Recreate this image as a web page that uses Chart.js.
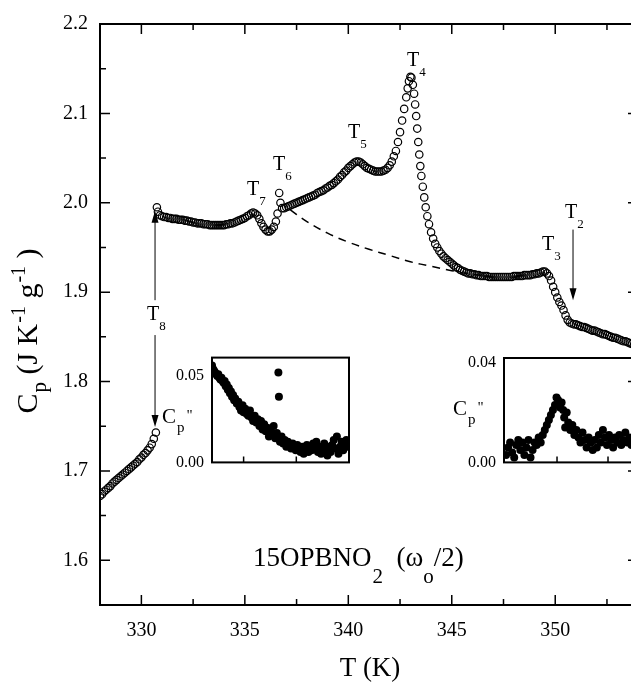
<!DOCTYPE html>
<html>
<head>
<meta charset="UTF-8">
<title>15OPBNO2 heat capacity</title>
<script src="https://cdn.jsdelivr.net/npm/chart.js"></script>
<style>
    html, body { margin: 0; padding: 0; background: #fff; overflow: hidden; }
    #wrap { position: relative; width: 631px; height: 684px; overflow: hidden; background: #fff; }
    #main { position: absolute; left: 0; top: 0; }
    #inset1 { position: absolute; left: 150px; top: 340px; }
    #inset2 { position: absolute; left: 440px; top: 340px; }
</style>
</head>
<body>
<div id="wrap">
    <canvas id="main" width="660" height="684"></canvas>
    <canvas id="inset1" width="210" height="140"></canvas>
    <canvas id="inset2" width="230" height="140"></canvas>
</div>

<script>
    // main curve, below the T8 jump
    const lowT = [328.0, 328.1, 328.2, 328.3, 328.4, 328.5, 328.6, 328.7, 328.8, 328.9,
        329.0, 329.1, 329.2, 329.3, 329.4, 329.5, 329.6, 329.7, 329.8, 329.9,
        330.0, 330.1, 330.2, 330.3, 330.4, 330.5, 330.6, 330.7];
    const lowCp = [1.672, 1.674, 1.677, 1.679, 1.681, 1.683, 1.686, 1.688, 1.690, 1.692,
        1.694, 1.696, 1.698, 1.700, 1.702, 1.704, 1.706, 1.708, 1.710, 1.713,
        1.715, 1.718, 1.720, 1.723, 1.726, 1.730, 1.736, 1.743];

    // main curve, above the T8 jump
    const highT = [330.75, 330.8, 330.9, 331.0, 331.1, 331.2, 331.3, 331.4, 331.5, 331.6, 331.7, 331.8, 331.9,
        332.0, 332.1, 332.2, 332.3, 332.4, 332.5, 332.6, 332.7, 332.8, 332.9,
        333.0, 333.1, 333.2, 333.3, 333.4, 333.5, 333.6, 333.7, 333.8, 333.9,
        334.0, 334.1, 334.2, 334.3, 334.4, 334.5, 334.6, 334.7, 334.8, 334.9,
        335.0, 335.1, 335.2, 335.3, 335.4, 335.5, 335.6, 335.7, 335.8, 335.9,
        336.0, 336.1, 336.2, 336.3, 336.4, 336.5, 336.58, 336.66, 336.72, 336.8, 336.9,
        337.0, 337.1, 337.2, 337.3, 337.4, 337.5, 337.6, 337.7, 337.8, 337.9,
        338.0, 338.1, 338.2, 338.3, 338.4, 338.5, 338.6, 338.7, 338.8, 338.9,
        339.0, 339.1, 339.2, 339.3, 339.4, 339.5, 339.6, 339.7, 339.8, 339.9,
        340.0, 340.1, 340.2, 340.3, 340.4, 340.5, 340.6, 340.7, 340.8, 340.9,
        341.0, 341.1, 341.2, 341.3, 341.4, 341.5, 341.6, 341.7, 341.8, 341.9,
        342.0, 342.1, 342.2, 342.3, 342.4, 342.5, 342.6, 342.7, 342.8, 342.87, 342.93,
        343.0, 343.05, 343.12, 343.18, 343.23, 343.28, 343.33, 343.38, 343.43, 343.48, 343.53,
        343.6, 343.67, 343.74, 343.82, 343.9,
        344.0, 344.1, 344.2, 344.3, 344.4, 344.5, 344.6, 344.7, 344.8, 344.9,
        345.0, 345.1, 345.2, 345.3, 345.4, 345.5, 345.6, 345.7, 345.8, 345.9,
        346.0, 346.1, 346.2, 346.3, 346.4, 346.5, 346.6, 346.7, 346.8, 346.9,
        347.0, 347.1, 347.2, 347.3, 347.4, 347.5, 347.6, 347.7, 347.8, 347.9,
        348.0, 348.1, 348.2, 348.3, 348.4, 348.5, 348.6, 348.7, 348.8, 348.9,
        349.0, 349.1, 349.2, 349.3, 349.4, 349.5, 349.6, 349.7, 349.8, 349.9,
        350.0, 350.1, 350.2, 350.3, 350.4, 350.5, 350.6, 350.7, 350.8, 350.9,
        351.0, 351.1, 351.2, 351.3, 351.4, 351.5, 351.6, 351.7, 351.8, 351.9,
        352.0, 352.1, 352.2, 352.3, 352.4, 352.5, 352.6, 352.7, 352.8, 352.9,
        353.0, 353.1, 353.2, 353.3, 353.4, 353.5, 353.6, 353.7, 353.8, 353.9];
    const highCp = [1.995, 1.990, 1.986, 1.985, 1.984, 1.984, 1.983, 1.983, 1.982, 1.982, 1.982, 1.981, 1.981,
        1.981, 1.980, 1.980, 1.979, 1.979, 1.978, 1.978, 1.977, 1.977, 1.977,
        1.976, 1.976, 1.976, 1.975, 1.975, 1.975, 1.975, 1.975, 1.975, 1.975,
        1.975, 1.976, 1.976, 1.977, 1.977, 1.978, 1.979, 1.980, 1.981, 1.982,
        1.983, 1.985, 1.986, 1.988, 1.989, 1.988, 1.986, 1.982, 1.977, 1.973,
        1.970, 1.968, 1.968, 1.970, 1.973, 1.979, 1.988, 2.011, 2.000, 1.994, 1.994,
        1.995, 1.996, 1.997, 1.998, 1.999, 2.000, 2.001, 2.002, 2.003, 2.004,
        2.005, 2.006, 2.007, 2.008, 2.009, 2.011, 2.012, 2.013, 2.014, 2.016,
        2.017, 2.019, 2.020, 2.022, 2.024, 2.026, 2.029, 2.031, 2.034, 2.036,
        2.039, 2.041, 2.043, 2.045, 2.046, 2.046, 2.045, 2.043, 2.041, 2.039,
        2.038, 2.037, 2.036, 2.035, 2.035, 2.035, 2.035, 2.036, 2.037, 2.039,
        2.042, 2.046, 2.052, 2.058, 2.068, 2.079, 2.092, 2.105, 2.118, 2.128, 2.136,
        2.141, 2.140, 2.132, 2.122, 2.110, 2.097, 2.083, 2.068, 2.054, 2.041, 2.030,
        2.018, 2.006, 1.995, 1.985, 1.976,
        1.967, 1.960, 1.954, 1.950, 1.946, 1.943, 1.940, 1.938, 1.936, 1.934,
        1.932, 1.930, 1.928, 1.927, 1.925, 1.924, 1.923, 1.922, 1.921, 1.921,
        1.920, 1.920, 1.919, 1.919, 1.918, 1.918, 1.918, 1.918, 1.917, 1.917,
        1.917, 1.917, 1.917, 1.917, 1.917, 1.917, 1.917, 1.917, 1.917, 1.917,
        1.918, 1.918, 1.918, 1.918, 1.918, 1.919, 1.919, 1.919, 1.919, 1.920,
        1.920, 1.921, 1.921, 1.922, 1.923, 1.923, 1.921, 1.918, 1.913, 1.906,
        1.900, 1.894, 1.889, 1.885, 1.880, 1.874, 1.869, 1.866, 1.865, 1.864,
        1.864, 1.863, 1.862, 1.861, 1.861, 1.860, 1.859, 1.858, 1.857, 1.857,
        1.856, 1.855, 1.854, 1.853, 1.853, 1.852, 1.851, 1.850, 1.849, 1.849,
        1.848, 1.847, 1.846, 1.845, 1.845, 1.844, 1.843, 1.842, 1.841, 1.841];

    // dashed background line
    const baseT = [337.2, 338, 339, 340, 341, 342, 343, 344, 345, 346, 346.8];
    const baseCp = [1.992, 1.979, 1.966, 1.956, 1.948, 1.941, 1.934, 1.929, 1.924, 1.920, 1.918];

    // left inset: Cp'' around T7/T6
    const in1T = [332.0, 332.1, 332.2, 332.3, 332.4, 332.5, 332.6, 332.7, 332.8, 332.9,
        333.0, 333.1, 333.2, 333.3, 333.4, 333.5, 333.6, 333.7, 333.8, 333.9,
        334.0, 334.1, 334.2, 334.35, 334.5, 334.6, 334.75, 334.9, 335.0, 335.15,
        335.3, 335.45, 335.6, 335.75, 335.9, 336.05, 336.2, 336.35, 336.5, 336.65,
        336.8, 336.95, 337.1, 337.25, 337.4, 337.55, 337.7, 337.85, 338.0, 338.15,
        338.3, 338.35, 338.45, 338.6, 338.75, 338.9, 339.05, 339.2, 339.35, 339.5,
        339.65, 339.8, 339.95, 340.1, 340.25, 340.4, 340.55, 340.7, 340.85, 341.0,
        341.15, 341.3, 341.45, 341.6, 341.75, 341.9, 342.05, 342.2, 342.35, 342.5,
        342.65, 342.8, 342.95, 343.1, 343.25, 343.4, 343.55, 343.7, 343.85, 344.0,
        344.15, 344.3, 344.45, 344.6, 344.75, 344.9];
    const in1Cp = [0.056, 0.054, 0.053, 0.052, 0.051, 0.050, 0.051, 0.049, 0.048, 0.049,
        0.047, 0.046, 0.047, 0.044, 0.045, 0.042, 0.043, 0.040, 0.041, 0.038,
        0.039, 0.036, 0.037, 0.034, 0.035, 0.032, 0.030, 0.033, 0.029, 0.031,
        0.028, 0.027, 0.030, 0.026, 0.024, 0.027, 0.023, 0.025, 0.021, 0.024,
        0.019, 0.022, 0.018, 0.020, 0.015, 0.019, 0.016, 0.021, 0.014, 0.017,
        0.052, 0.038, 0.012, 0.015, 0.011, 0.013, 0.009, 0.012, 0.010, 0.008,
        0.011, 0.009, 0.007, 0.010, 0.008, 0.006, 0.009, 0.005, 0.008, 0.010,
        0.006, 0.009, 0.007, 0.011, 0.008, 0.012, 0.006, 0.009, 0.005, 0.008,
        0.011, 0.007, 0.004, 0.009, 0.006, 0.010, 0.013, 0.008, 0.015, 0.005,
        0.009, 0.012, 0.007, 0.010, 0.013, 0.009];

    // right inset: Cp'' around T3/T2
    const in2T = [345.0, 345.2, 345.4, 345.6, 345.8, 346.0, 346.2, 346.4, 346.6, 346.8,
        347.0, 347.2, 347.4, 347.6, 347.8, 348.0, 348.2, 348.4, 348.6, 348.8,
        349.0, 349.2, 349.4, 349.6, 349.8, 349.95, 350.1, 350.3, 350.45, 350.6,
        350.7, 350.8, 350.95, 351.1, 351.3, 351.5, 351.7, 351.9, 352.1, 352.3,
        352.5, 352.7, 352.9, 353.1, 353.3, 353.5, 353.7, 353.9, 354.1, 354.3,
        354.5, 354.7, 354.9, 355.1, 355.3, 355.5, 355.7, 355.9, 356.1, 356.3,
        356.5, 356.7, 356.9, 357.1, 357.3];
    const in2Cp = [0.003, 0.006, 0.008, 0.004, 0.002, 0.007, 0.009, 0.005, 0.008, 0.003,
        0.006, 0.009, 0.002, 0.005, 0.008, 0.007, 0.010, 0.008, 0.011, 0.013,
        0.015, 0.017, 0.019, 0.021, 0.023, 0.026, 0.025, 0.022, 0.024, 0.021,
        0.018, 0.014, 0.020, 0.016, 0.013, 0.015, 0.011, 0.013, 0.010, 0.008,
        0.012, 0.009, 0.006, 0.010, 0.008, 0.005, 0.009, 0.006, 0.011, 0.008,
        0.013, 0.010, 0.007, 0.011, 0.009, 0.006, 0.010, 0.008, 0.011, 0.007,
        0.009, 0.012, 0.008, 0.010, 0.007];

    // axis ticks
    const xMajor = [330, 335, 340, 345, 350];
    const xMinor = [332.5, 337.5, 342.5, 347.5, 352.5];
    const yMajor = [1.6, 1.7, 1.8, 1.9, 2.0, 2.1, 2.2];
    const yMinor = [1.65, 1.75, 1.85, 1.95, 2.05, 2.15];

    const SERIF = '"Liberation Serif", "Times New Roman", serif';
    Chart.defaults.font.family = SERIF;
    Chart.defaults.color = '#000';

    const pts = (xs, ys) => xs.map((x, i) => ({x: x, y: ys[i]}));

    // draws text made of pieces (sub/superscripts), returns width
    function rich(ctx, x, y, parts, measureOnly) {
        let cx = x;
        parts.forEach(p => {
            ctx.font = p.size + 'px ' + SERIF;
            if (!measureOnly) ctx.fillText(p.text, cx + (p.dx || 0), y + (p.dy || 0));
            cx += ctx.measureText(p.text).width + (p.dx || 0);
        });
        return cx - x;
    }

    const tLabel = n => [{text: 'T', size: 20}, {text: n, size: 13, dy: 10, dx: 0}];
    const cppLabel = [{text: 'C', size: 21}, {text: 'p', size: 15, dy: 9, dx: 1}, {text: '"', size: 15, dy: -3, dx: 2}];

    // annotation places, in data units of the main axes
    const notes = [
        {x: 330.27, y: 1.869, parts: tLabel('8')},
        {x: 335.10, y: 2.009, parts: tLabel('7')},
        {x: 336.36, y: 2.037, parts: tLabel('6')},
        {x: 339.99, y: 2.072, parts: tLabel('5')},
        {x: 342.84, y: 2.153, parts: tLabel('4')},
        {x: 349.36, y: 1.947, parts: tLabel('3')},
        {x: 350.47, y: 1.983, parts: tLabel('2')},
        {x: 331.0, y: 1.754, parts: cppLabel},
        {x: 345.06, y: 1.763, parts: cppLabel},
        {x: 335.39, y: 1.594, parts: [
            {text: '15OPBNO', size: 27}, {text: '2', size: 21, dy: 17, dx: 1},
            {text: '  (\u03c9', size: 27}, {text: 'o', size: 21, dy: 17}, {text: '/2)', size: 27}]}
    ];
    const arrows = [
        {x: 330.66, from: 1.891, to: 1.991},
        {x: 330.66, from: 1.852, to: 1.749},
        {x: 350.86, from: 1.970, to: 1.891}
    ];

    const mainDecor = {
        id: 'mainDecor',
        afterDraw(chart) {
            const ctx = chart.ctx, a = chart.chartArea;
            const sx = chart.scales.x, sy = chart.scales.y;
            ctx.save();
            ctx.strokeStyle = '#000';
            ctx.fillStyle = '#000';
            ctx.lineWidth = 2;
            ctx.strokeRect(a.left, a.top, a.right - a.left, a.bottom - a.top);
            ctx.lineWidth = 1.5;
            ctx.beginPath();
            xMajor.concat(xMinor).forEach(v => {
                const px = sx.getPixelForValue(v), len = xMajor.includes(v) ? 10 : 6;
                ctx.moveTo(px, a.bottom); ctx.lineTo(px, a.bottom - len);
                ctx.moveTo(px, a.top); ctx.lineTo(px, a.top + len);
            });
            yMajor.concat(yMinor).forEach(v => {
                const py = sy.getPixelForValue(v), len = yMajor.includes(v) ? 10 : 6;
                ctx.moveTo(a.left, py); ctx.lineTo(a.left + len, py);
                ctx.moveTo(a.right, py); ctx.lineTo(a.right - len, py);
            });
            ctx.stroke();

            // arrows
            ctx.lineWidth = 1;
            arrows.forEach(ar => {
                const px = sx.getPixelForValue(ar.x);
                const y0 = sy.getPixelForValue(ar.from), y1 = sy.getPixelForValue(ar.to);
                const dir = y1 < y0 ? 1 : -1;
                ctx.beginPath();
                ctx.moveTo(px, y0); ctx.lineTo(px, y1 + dir * 8);
                ctx.stroke();
                ctx.beginPath();
                ctx.moveTo(px, y1);
                ctx.lineTo(px - 3.5, y1 + dir * 12);
                ctx.lineTo(px + 3.5, y1 + dir * 12);
                ctx.closePath();
                ctx.fill();
            });

            // labels
            ctx.textBaseline = 'alphabetic';
            ctx.textAlign = 'left';
            notes.forEach(n => rich(ctx, sx.getPixelForValue(n.x), sy.getPixelForValue(n.y), n.parts));

            // axis titles
            ctx.font = '27px ' + SERIF;
            ctx.textAlign = 'center';
            ctx.fillText('T (K)', (a.left + a.right) / 2 + 1, 676);
            ctx.textAlign = 'left';
            const yParts = [{text: 'C', size: 30}, {text: 'p', size: 21, dy: 9, dx: 1},
                {text: ' (J K', size: 30}, {text: '-1', size: 20, dy: -12, dx: 1},
                {text: ' g', size: 30}, {text: '-1', size: 20, dy: -12, dx: 1}, {text: ' )', size: 30}];
            ctx.translate(37, 331);
            ctx.rotate(-Math.PI / 2);
            const w = rich(ctx, 0, 0, yParts, true);
            rich(ctx, -w / 2, 0, yParts);
            ctx.restore();
        }
    };

    new Chart(document.getElementById('main'), {
        type: 'scatter',
        data: {
            datasets: [
                {
                    data: pts(baseT, baseCp),
                    showLine: true,
                    pointRadius: 0,
                    borderColor: '#000',
                    borderWidth: 1.5,
                    borderDash: [8, 6],
                    tension: 0.4
                },
                {
                    data: pts(lowT, lowCp).concat(pts(highT, highCp)),
                    pointRadius: 3.7,
                    borderWidth: 1.2,
                    borderColor: '#000',
                    backgroundColor: 'rgba(0,0,0,0)'
                }
            ]
        },
        options: {
            responsive: false,
            animation: false,
            layout: {padding: {top: 20, right: 22, left: 0, bottom: 0}},
            plugins: {legend: {display: false}, tooltip: {enabled: false}},
            scales: {
                x: {
                    type: 'linear', min: 328, max: 354,
                    afterFit: s => { s.height = 79; },
                    afterBuildTicks: s => { s.ticks = xMajor.map(v => ({value: v})); },
                    grid: {display: false, drawTicks: false},
                    border: {display: false},
                    ticks: {font: {size: 20}, padding: 14, autoSkip: false, maxRotation: 0, callback: v => v}
                },
                y: {
                    min: 1.55, max: 2.2,
                    afterFit: s => { s.width = 100; },
                    afterBuildTicks: s => { s.ticks = yMajor.map(v => ({value: v})); },
                    grid: {display: false, drawTicks: false},
                    border: {display: false},
                    ticks: {font: {size: 20}, padding: 12, callback: v => v.toFixed(1)}
                }
            }
        },
        plugins: [mainDecor]
    });

    function makeInset(id, xs, ys, xMin, xMax, yMax, yTicks, xTicks, padRight, leftW, padTop) {
        const frame = {
            id: 'frame',
            afterDraw(chart) {
                const ctx = chart.ctx, a = chart.chartArea;
                ctx.save();
                ctx.strokeStyle = '#000';
                ctx.lineWidth = 2;
                ctx.strokeRect(a.left, a.top, a.right - a.left, a.bottom - a.top);
                ctx.lineWidth = 1.5;
                ctx.beginPath();
                xTicks.forEach(v => {
                    const px = chart.scales.x.getPixelForValue(v);
                    ctx.moveTo(px, a.bottom); ctx.lineTo(px, a.bottom - 6);
                });
                ctx.stroke();
                ctx.restore();
            }
        };
        new Chart(document.getElementById(id), {
            type: 'scatter',
            data: {
                datasets: [{
                    data: pts(xs, ys),
                    pointRadius: 4,
                    borderWidth: 0,
                    backgroundColor: '#000'
                }]
            },
            options: {
                responsive: false,
                animation: false,
                layout: {padding: {top: padTop, right: padRight, left: 0, bottom: 11}},
                plugins: {legend: {display: false}, tooltip: {enabled: false}},
                scales: {
                    x: {type: 'linear', min: xMin, max: xMax, display: false},
                    y: {
                        min: 0, max: yMax,
                        afterFit: s => { s.width = leftW; },
                        afterBuildTicks: s => { s.ticks = yTicks.map(v => ({value: v})); },
                        grid: {display: false, drawTicks: false},
                        border: {display: false},
                        ticks: {font: {size: 16}, padding: 8, callback: v => v.toFixed(2)}
                    }
                }
            },
            plugins: [frame]
        });
    }

    makeInset('inset1', in1T, in1Cp, 332, 345, 0.0606, [0, 0.05], [335, 340], 11, 62, 15);
    makeInset('inset2', in2T, in2Cp, 344.8, 360, 0.0419, [0, 0.04], [350, 355], 11, 64, 18);
</script>
</body>
</html>
